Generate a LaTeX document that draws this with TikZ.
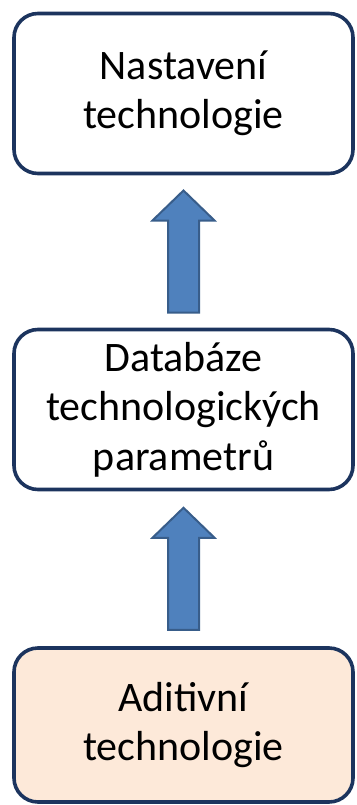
\documentclass[tikz,border=0pt]{standalone}
\usepackage{fontspec}
\setmainfont{Carlito}
\usetikzlibrary{calc}
\definecolor{frame}{RGB}{28,52,94}
\definecolor{peach}{RGB}{253,233,217}
\definecolor{arrfill}{RGB}{79,129,189}
\definecolor{arrline}{RGB}{56,93,138}

\begin{document}
\begin{tikzpicture}[
    x=1pt, y=1pt,
    box/.style={rectangle, draw=frame, line width=3.6pt, fill=white,
                minimum width=339pt, minimum height=160pt, align=center,
                rounded corners=24pt, font=\fontsize{42}{49.5}\selectfont},
    blockarr/.style={draw=arrline, fill=arrfill, line width=2pt}
]
    \useasboundingbox (0,0) rectangle (356,-805);

    % Boxes
    \node[box] (top) at (183.5,-93.5) {Nastavení\\technologie};
    \node[box] (mid) at (183.5,-409.5) {Databáze\\technologických\\parametrů};
    \node[box, fill=peach, minimum height=154pt] (bot) at (183.5,-725) {Aditivní\\technologie};

    % Arrows
    \coordinate (c1) at ($(mid.north)!0.5!(top.south)$);
    \coordinate (c2) at ($(bot.north)!0.5!(mid.south)$);
    \foreach \c in {c1,c2}
        \draw[blockarr] ($(\c)+(-15.5,-61)$) -- ++(31,0) -- ++(0,92) -- ++(15.5,0)
            -- ++(-31,30) -- ++(-31,-30) -- ++(15.5,0) -- cycle;
\end{tikzpicture}
\end{document}
